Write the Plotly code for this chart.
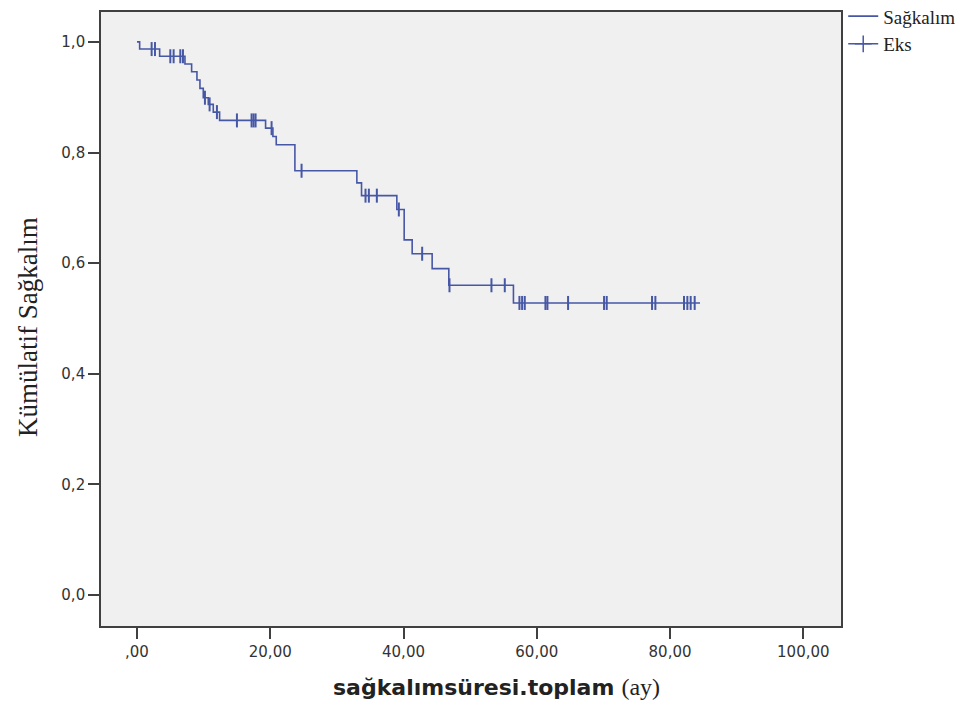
import plotly.graph_objects as go

# Kaplan-Meier step data (time in months, cumulative survival)
event_times = [0, 0.4, 3.4, 7.2, 8.2, 9.0, 9.45, 9.95, 10.7, 11.45, 12.4,
               19.3, 20.4, 20.9, 23.7, 33.0, 33.7, 39.0, 40.1, 41.3, 44.3,
               46.8, 56.5, 84.5]
survival = [1.0, 0.987, 0.974, 0.960, 0.946, 0.931, 0.916, 0.899, 0.887,
            0.873, 0.858, 0.844, 0.829, 0.814, 0.767, 0.745, 0.722, 0.697,
            0.642, 0.617, 0.590, 0.560, 0.528, 0.528]

# censored observations (time)
censor_times = [2.2, 2.7, 5.0, 5.5, 6.5, 6.9, 10.2, 10.9, 12.0, 15.0, 17.2,
                17.5, 17.8, 20.2, 24.7, 34.3, 34.8, 36.0, 39.3, 42.8, 46.9,
                53.2, 55.2, 57.4, 57.8, 58.2, 61.3, 61.6, 64.7, 70.1, 70.5,
                77.3, 77.8, 82.1, 82.6, 83.1, 83.7]


def surv_at(t):
    s = survival[0]
    for et, sv in zip(event_times, survival):
        if et <= t:
            s = sv
    return s


censor_surv = [surv_at(t) for t in censor_times]

x_tickvals = [0, 20, 40, 60, 80, 100]
x_ticktext = [",00", "20,00", "40,00", "60,00", "80,00", "100,00"]
y_tickvals = [0, 0.2, 0.4, 0.6, 0.8, 1.0]
y_ticktext = ["0,0", "0,2", "0,4", "0,6", "0,8", "1,0"]

curve_color = "#4657a6"
frame_color = "#404040"
tick_font = dict(family="DejaVu Sans", size=15, color="#333333")

fig = go.Figure()
fig.add_trace(go.Scatter(
    x=event_times, y=survival, mode="lines", line=dict(shape="hv", color=curve_color, width=1.6),
    name="Sağkalım", showlegend=True, hoverinfo="skip"))
fig.add_trace(go.Scatter(
    x=censor_times, y=censor_surv, mode="markers",
    marker=dict(symbol="line-ns", size=10, line=dict(color=curve_color, width=2)),
    name="Eks", showlegend=False, hoverinfo="skip"))
# legend entry for censor marks (line with cross)
fig.add_trace(go.Scatter(
    x=[None], y=[None], mode="lines+markers", line=dict(color=curve_color, width=1.5),
    marker=dict(symbol="cross-thin", size=12, line=dict(color=curve_color, width=1.5)),
    name="Eks", showlegend=True))

fig.update_layout(
    width=972, height=705, autosize=False,
    margin=dict(l=101, r=131, t=12, b=79, autoexpand=False),
    paper_bgcolor="white", plot_bgcolor="#f0f0f0",
    legend=dict(x=1.003, y=1.024, xanchor="left", yanchor="top",
                font=dict(family="Liberation Serif", size=19, color="#222222"),
                bgcolor="rgba(0,0,0,0)", itemwidth=30, tracegroupgap=0),
    xaxis=dict(range=[-5.4, 105.66], tickvals=x_tickvals, ticktext=x_ticktext,
               showgrid=False, zeroline=False, showline=True, mirror=True,
               linecolor=frame_color, linewidth=1.6, ticks="outside", ticklen=11,
               tickwidth=1.6, tickcolor=frame_color, tickfont=tick_font),
    yaxis=dict(range=[-0.056, 1.054], tickvals=y_tickvals, ticktext=y_ticktext,
               showgrid=False, zeroline=False, showline=True, mirror=True,
               linecolor=frame_color, linewidth=1.6, ticks="outside", ticklen=11,
               tickwidth=1.6, tickcolor=frame_color, tickfont=tick_font),
    annotations=[
        dict(text="<b>sağkalımsüresi.toplam</b> <span style='font-family:Liberation Serif; font-weight:normal; font-size:24px'>(ay)</span>",
             xref="paper", yref="paper", x=0.534, y=-0.1, xanchor="center", yanchor="middle",
             showarrow=False, font=dict(family="DejaVu Sans", size=22, color="#222222")),
        dict(text="Kümülatif Sağkalım", textangle=-90,
             xref="paper", yref="paper", x=-0.0986, y=0.487, xanchor="center", yanchor="middle",
             showarrow=False, font=dict(family="Liberation Serif", size=27, color="#222222")),
    ],
)

fig.write_html("out.html")
